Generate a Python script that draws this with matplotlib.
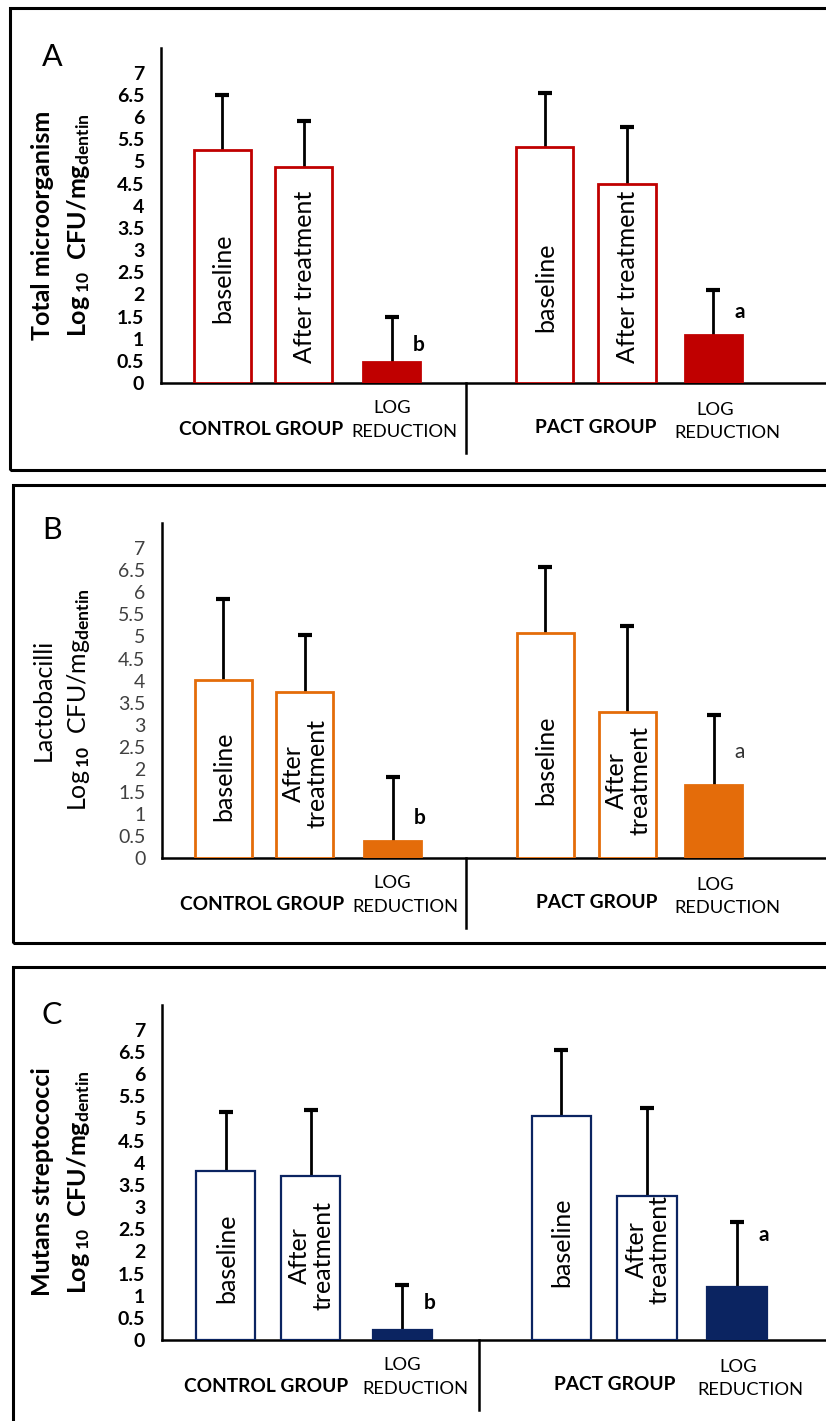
import matplotlib
matplotlib.use("Agg")
import matplotlib.pyplot as plt
from matplotlib.patches import Rectangle

plt.rcParams['font.family'] = ['Lato', 'DejaVu Sans']
plt.rcParams['mathtext.fontset'] = 'custom'
plt.rcParams['mathtext.rm'] = 'Lato'
plt.rcParams['mathtext.bf'] = 'Lato:bold'
plt.rcParams['mathtext.it'] = 'Lato:italic'

# data (log10 CFU/mg dentin), order:
# control baseline, control after, control log red., PACT baseline, PACT after, PACT log red.
total_mean = [5.25, 4.88, 0.47, 5.33, 4.48, 1.08]
total_sd = [1.24, 1.03, 1.02, 1.21, 1.29, 1.01]
lacto_mean = [4.02, 3.75, 0.38, 5.08, 3.30, 1.65]
lacto_sd = [1.83, 1.28, 1.45, 1.49, 1.94, 1.58]
mutans_mean = [3.81, 3.70, 0.23, 5.06, 3.25, 1.20]
mutans_sd = [1.34, 1.49, 1.01, 1.49, 1.99, 1.46]

ytick_vals = [0, 0.5, 1, 1.5, 2, 2.5, 3, 3.5, 4, 4.5, 5, 5.5, 6, 6.5, 7]
ytick_labels = ['0', '0.5', '1', '1.5', '2', '2.5', '3', '3.5', '4', '4.5',
                '5', '5.5', '6', '6.5', '7']
group_labels = ['CONTROL GROUP', 'PACT GROUP']
log_label = ['LOG', 'REDUCTION']
sig_letters = ['b', 'a']

W, H = 826, 1421
fig = plt.figure(figsize=(W / 100, H / 100), dpi=100)

# bar positions / layout (x in "bar steps")
xpos = [0.73, 1.70, 2.75, 4.57, 5.55, 6.58]
bar_w = 0.68
divider_x = 3.63


def px_axes(left, top, right, bottom):
    return fig.add_axes([left / W, 1 - bottom / H, (right - left) / W, (bottom - top) / H])


def draw_panel(ax, means, sds, color, inner_labels, inner_y, tick_bold, tick_color,
               sig_y, sig_weights, xr, edge_lw):
    fills = ['white', 'white', color, 'white', 'white', color]
    ax.bar(xpos, means, width=bar_w, color=fills, edgecolor=color, linewidth=edge_lw, zorder=3)
    eb = ax.errorbar(xpos, means, yerr=[[0] * 6, sds], fmt='none', ecolor='black',
                     elinewidth=2.0, capsize=5, capthick=3, zorder=2)
    # only the upper cap is drawn in the original
    eb[1][0].set_visible(False)
    ax.set_xlim(0, xr)
    ax.set_ylim(0, 7.56)
    ax.set_yticks(ytick_vals)
    ax.set_yticklabels(ytick_labels, fontsize=14,
                       fontweight='bold' if tick_bold else 'normal', color=tick_color)
    ax.set_xticks([])
    ax.tick_params(axis='y', length=0, pad=12)
    for s in ['top', 'right']:
        ax.spines[s].set_visible(False)
    for s in ['left', 'bottom']:
        ax.spines[s].set_linewidth(1.8)
        ax.spines[s].set_color('black')
    ax.patch.set_alpha(0)

    # labels written inside the open bars
    for i, j in enumerate([0, 1, 3, 4]):
        ax.text(xpos[j] + 0.01, inner_y[i], inner_labels[i], rotation=90, ha='center',
                va='center', fontsize=18, multialignment='center', linespacing=1.0, zorder=4)

    # significance letters
    for k, j in enumerate([2, 5]):
        ax.text(xpos[j] + 0.25, sig_y[k], sig_letters[k], fontsize=15,
                fontweight=sig_weights[k], ha='left', va='center',
                color='black' if sig_weights[k] == 'bold' else '#333333')

    # group labels under the axis
    ax.text(1.19, -1.06, group_labels[0], fontsize=13.8, fontweight='bold',
            ha='center', va='center', clip_on=False)
    ax.text(5.18, -1.01, group_labels[1], fontsize=13.8, fontweight='bold',
            ha='center', va='center', clip_on=False)
    ax.text(xpos[2], -0.56, log_label[0], fontsize=13.2, ha='center', va='center', clip_on=False)
    ax.text(xpos[2] + 0.15, -1.10, log_label[1], fontsize=13.2, ha='center', va='center',
            clip_on=False)
    ax.text(xpos[5] + 0.02, -0.61, log_label[0], fontsize=13.2, ha='center', va='center',
            clip_on=False)
    ax.text(xpos[5] + 0.16, -1.13, log_label[1], fontsize=13.2, ha='center', va='center',
            clip_on=False)
    ax.plot([divider_x, divider_x], [0, -1.58], color='black', lw=1.8, clip_on=False)


def panel_box(left, top, bottom):
    fig.add_artist(Rectangle((left / W, 1 - bottom / H), (W + 40 - left) / W,
                             (bottom - top) / H, transform=fig.transFigure,
                             fill=False, edgecolor='black', linewidth=2.2))


def ylabel(title, title_bold, cy, bold2):
    fig.text(43 / W, 1 - cy / H, title, rotation=90, ha='center', va='center',
             fontsize=18, fontweight='bold' if title_bold else 'normal')
    fig.text(79 / W, 1 - cy / H, r'Log$\,_{\mathbf{10}}$  CFU/mg$_{\mathbf{dentin}}$',
             rotation=90, ha='center', va='center', fontsize=18,
             fontweight='bold' if bold2 else 'normal')


# ---- panel A ----
panel_box(10, 8, 470)
axA = px_axes(161, 48, 826, 383)
draw_panel(axA, total_mean, total_sd, '#C00000',
           ['baseline', 'After treatment', 'baseline', 'After treatment'],
           [2.36, 2.39, 2.16, 2.39], True, 'black', [0.86, 1.6], ['bold', 'bold'], 7.92, 2.0)
fig.text(52 / W, 1 - 57 / H, 'A', fontsize=22, ha='center', va='center')
ylabel('Total microorganism', True, 225, True)

# ---- panel B ----
panel_box(13, 485, 943)
axB = px_axes(162, 523, 826, 858)
draw_panel(axB, lacto_mean, lacto_sd, '#E46C0A',
           ['baseline', 'After\ntreatment', 'baseline', 'After\ntreatment'],
           [1.85, 1.9, 2.2, 1.74], False, '#404040', [0.9, 2.4], ['bold', 'normal'], 7.92, 2.0)
fig.text(52 / W, 1 - 530 / H, 'B', fontsize=22, ha='center', va='center')
ylabel('Lactobacilli', False, 700, False)

# ---- panel C ----
panel_box(13, 967, 1460)
axC = px_axes(162, 1005, 826, 1340)
draw_panel(axC, mutans_mean, mutans_sd, '#0B2461',
           ['baseline', 'After\ntreatment', 'baseline', 'After\ntreatment'],
           [1.85, 1.9, 2.2, 2.04], True, 'black', [0.83, 2.37], ['bold', 'bold'], 7.6, 1.6)
fig.text(52 / W, 1 - 1015 / H, 'C', fontsize=22, ha='center', va='center')
ylabel('Mutans streptococci', True, 1182, True)

fig.savefig('out.png', dpi=100)
